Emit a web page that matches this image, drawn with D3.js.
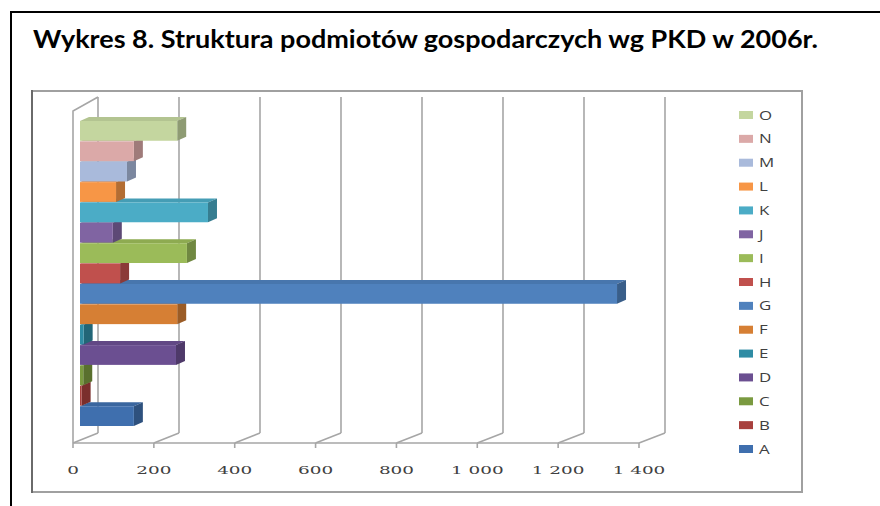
<!DOCTYPE html>
<html>
<head>
<meta charset="utf-8">
<script src="https://cdn.jsdelivr.net/npm/d3@7"></script>
<style>
  body { margin: 0; background: #fff; }
  svg { display: block; }
</style>
</head>
<body>
<div id="main-container"></div>
<script>
// dane (liczba podmiotów wg sekcji PKD)
const kategorie = ["A", "B", "C", "D", "E", "F", "G", "H", "I", "J", "K", "L", "M", "N", "O"];
const wartosci = [133, 4, 8, 237, 9, 240, 1326, 99, 264, 81, 316, 89, 116, 133, 240];
const kolory = ["#3f6fae", "#a8403d", "#7a9a40", "#6b4f91", "#2f8ca4", "#d67f34",
                "#4f81bd", "#c0504d", "#9bbb59", "#8064a2", "#4bacc6", "#f79646",
                "#a9badb", "#dba9a8", "#c4d69f"];
const ticki = [0, 200, 400, 600, 800, 1000, 1200, 1400];
const tytul = "Wykres 8. Struktura podmiotów gospodarczych wg PKD w 2006r.";

const W = 880, H = 506;
const svg = d3.select("#main-container").append("svg")
    .attr("width", W).attr("height", H);

const locale = d3.formatLocale({decimal: ",", thousands: " ", grouping: [3], currency: ["", ""]});
const fmt = locale.format(",d");

// ramka zewnetrzna
svg.append("path")
    .attr("d", "M11,507 V12 H881")
    .attr("fill", "none")
    .attr("stroke", "#000")
    .attr("stroke-width", 2);

svg.append("text")
    .attr("x", 33)
    .attr("y", 48)
    .attr("font-family", "Lato, 'Open Sans', sans-serif")
    .attr("font-weight", "bold")
    .attr("font-size", 25)
    .attr("fill", "#000")
    .attr("textLength", 785)
    .attr("lengthAdjust", "spacingAndGlyphs")
    .text(tytul);

// obszar wykresu
svg.append("rect")
    .attr("x", 32).attr("y", 91)
    .attr("width", 770).attr("height", 401)
    .attr("fill", "#fff")
    .attr("stroke", "#a0a0a0")
    .attr("stroke-width", 2);
svg.append("line")
    .attr("x1", 32).attr("x2", 32).attr("y1", 90).attr("y2", 493)
    .attr("stroke", "#6a6a6a").attr("stroke-width", 2);

// skale: przednia krawedz podlogi, tylna sciana, plaszczyzna slupkow
const xFront = d3.scaleLinear().domain([0, 1400]).range([73, 639]);
const xBack = d3.scaleLinear().domain([0, 1400]).range([98, 665]);
const xBar = d3.scaleLinear().domain([0, 1400]).range([80, 647]);
const yFloorFront = 443, yFloorBack = 433, yTopBack = 97, yTopFront = 111;

const y = d3.scaleBand()
    .domain(kategorie.slice().reverse())
    .range([121, 426])
    .paddingInner(0.03);

const grid = svg.append("g")
    .attr("fill", "none")
    .attr("stroke", "#a6a6a6")
    .attr("stroke-width", 1.6);

// linie tylnej sciany
grid.selectAll(".back")
    .data(ticki)
    .join("line")
    .attr("class", "back")
    .attr("x1", d => xBack(d)).attr("x2", d => xBack(d))
    .attr("y1", yTopBack).attr("y2", yFloorBack);

// linie podlogi
grid.selectAll(".floor")
    .data(ticki)
    .join("line")
    .attr("class", "floor")
    .attr("x1", d => xFront(d)).attr("y1", yFloorFront)
    .attr("x2", d => xBack(d)).attr("y2", yFloorBack);

// znaczniki osi
grid.selectAll(".tick")
    .data(ticki)
    .join("line")
    .attr("class", "tick")
    .attr("x1", d => xFront(d)).attr("x2", d => xFront(d))
    .attr("y1", yFloorFront).attr("y2", yFloorFront + 5);

// krawedz przednia podlogi i lewa sciana
grid.append("line")
    .attr("x1", xFront(0)).attr("x2", xFront(1400))
    .attr("y1", yFloorFront).attr("y2", yFloorFront);
grid.append("path")
    .attr("d", `M${xFront(0)},${yFloorFront} V${yTopFront} L${xBack(0)},${yTopBack}`);

// etykiety osi
svg.append("g").selectAll("text")
    .data(ticki)
    .join("text")
    .attr("transform", d => `translate(${xFront(d)},474) scale(1.6,1)`)
    .attr("text-anchor", "middle")
    .attr("font-family", "'DejaVu Serif', serif")
    .attr("font-size", 11.5)
    .attr("fill", "#404040")
    .text(d => fmt(d));

// slupki 3D
const dx = 9, dy = -4;
const dane = kategorie.map((k, i) => ({k: k, v: wartosci[i], c: kolory[i]}));

const bary = svg.append("g").selectAll("g")
    .data(dane)
    .join("g");

bary.append("path")
    .attr("fill", d => d3.color(d.c).darker(0.25))
    .attr("d", d => {
        const x0 = xBar(0), x1 = xBar(d.v), t = y(d.k);
        return `M${x0},${t} L${x0 + dx},${t + dy} L${x1 + dx},${t + dy} L${x1},${t} Z`;
    });
bary.append("path")
    .attr("fill", d => d3.color(d.c).darker(0.9))
    .attr("d", d => {
        const x1 = xBar(d.v), t = y(d.k), b = t + y.bandwidth();
        return `M${x1},${t} L${x1 + dx},${t + dy} L${x1 + dx},${b + dy} L${x1},${b} Z`;
    });
bary.append("rect")
    .attr("x", xBar(0))
    .attr("y", d => y(d.k))
    .attr("width", d => xBar(d.v) - xBar(0))
    .attr("height", y.bandwidth())
    .attr("fill", d => d.c);

// legenda
const yLeg = d3.scalePoint()
    .domain(kategorie.slice().reverse())
    .range([115, 449]);

const leg = svg.append("g").selectAll("g")
    .data(dane)
    .join("g")
    .attr("transform", d => `translate(739,${yLeg(d.k)})`);
leg.append("rect")
    .attr("x", 0).attr("y", -4)
    .attr("width", 14).attr("height", 8)
    .attr("fill", d => d.c);
leg.append("text")
    .attr("transform", "translate(20,4.5) scale(1.35,1)")
    .attr("font-family", "'Open Sans', sans-serif")
    .attr("font-size", 12.5)
    .attr("fill", "#404040")
    .text(d => d.k);
</script>
</body>
</html>
